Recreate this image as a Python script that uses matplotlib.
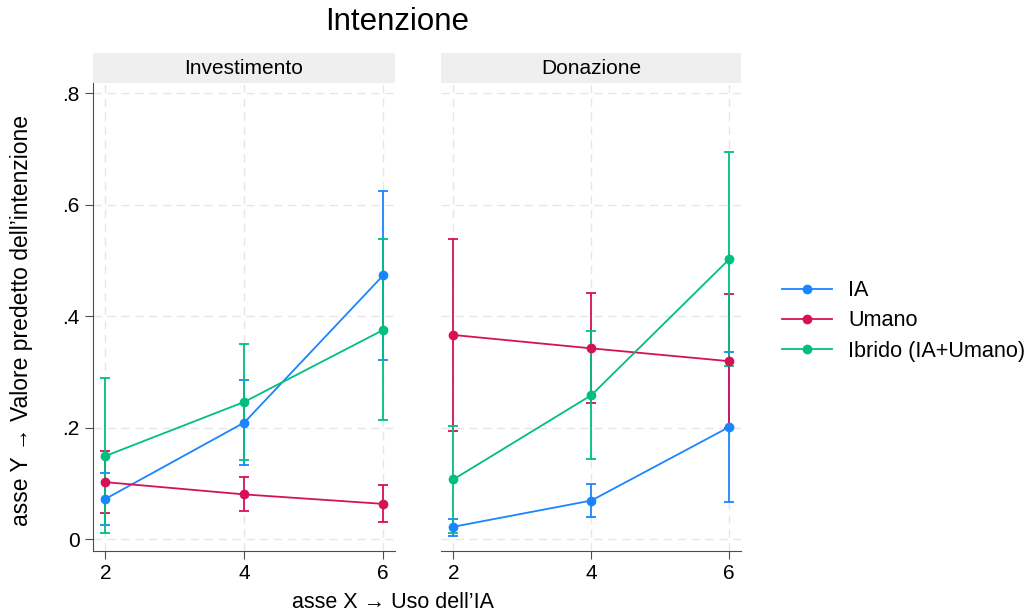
import matplotlib
matplotlib.use("Agg")
import matplotlib.pyplot as plt
from matplotlib.patches import Rectangle

plt.rcParams['font.family'] = ['Liberation Sans', 'DejaVu Sans']

# data
x_vals = [2, 4, 6]
panels = ["Investimento", "Donazione"]
groups = ["IA", "Umano", "Ibrido (IA+Umano)"]
colors = ["#1a85ff", "#d41159", "#00bf7f"]

# Investimento
inv_ia = [0.072, 0.209, 0.473]
inv_ia_lo = [0.025, 0.133, 0.321]
inv_ia_hi = [0.119, 0.285, 0.625]
inv_um = [0.102, 0.080, 0.063]
inv_um_lo = [0.047, 0.050, 0.030]
inv_um_hi = [0.157, 0.111, 0.096]
inv_ib = [0.149, 0.246, 0.375]
inv_ib_lo = [0.010, 0.142, 0.214]
inv_ib_hi = [0.289, 0.349, 0.538]

# Donazione
don_ia = [0.022, 0.069, 0.201]
don_ia_lo = [0.006, 0.039, 0.066]
don_ia_hi = [0.036, 0.099, 0.336]
don_um = [0.366, 0.342, 0.319]
don_um_lo = [0.194, 0.244, 0.200]
don_um_hi = [0.539, 0.441, 0.439]
don_ib = [0.107, 0.258, 0.502]
don_ib_lo = [0.010, 0.143, 0.311]
don_ib_hi = [0.203, 0.373, 0.694]

data = [
    [(inv_ia, inv_ia_lo, inv_ia_hi), (inv_um, inv_um_lo, inv_um_hi), (inv_ib, inv_ib_lo, inv_ib_hi)],
    [(don_ia, don_ia_lo, don_ia_hi), (don_um, don_um_lo, don_um_hi), (don_ib, don_ib_lo, don_ib_hi)],
]

W, H = 1032, 615
fig = plt.figure(figsize=(W / 100, H / 100), dpi=100)

axes_px = [(93, 395), (441, 741)]
top_px, bot_px = 83, 551
spine_col = "#4d4d4d"
fs = 15

handles = []
for p, (x0, x1) in enumerate(axes_px):
    ax = fig.add_axes([x0 / W, (H - bot_px) / H, (x1 - x0) / W, (bot_px - top_px) / H])
    for g, (vals, lo, hi) in enumerate(data[p]):
        err = [[v - l for v, l in zip(vals, lo)], [h - v for v, h in zip(vals, hi)]]
        ax.errorbar(x_vals, vals, yerr=err, fmt="none", ecolor=colors[g],
                    elinewidth=1.3, capsize=3.5, capthick=1.3, zorder=3)
        ln, = ax.plot(x_vals, vals, color=colors[g], lw=1.3, marker="o",
                      markersize=6, zorder=4, label=groups[g])
        if p == 0:
            handles.append(ln)

    ax.set_xlim(1.82, 6.17)
    ax.set_ylim(-0.0215, 0.818)
    ax.set_xticks(x_vals)
    ax.set_yticks([0, 0.2, 0.4, 0.6, 0.8])
    ax.set_yticklabels(["0", ".2", ".4", ".6", ".8"])
    ax.grid(True, color="#e6e6e6", linestyle=(0, (6, 4)), lw=1)
    ax.set_axisbelow(True)
    for s in ["top", "right"]:
        ax.spines[s].set_visible(False)
    ax.spines["bottom"].set_color(spine_col)
    ax.spines["left"].set_color(spine_col)
    ax.tick_params(axis="both", colors=spine_col, labelcolor="black",
                   labelsize=fs, length=6, direction="out")
    if p == 1:
        ax.spines["left"].set_visible(False)
        ax.tick_params(axis="y", left=False, labelleft=False)

    # header strip
    fig.patches.append(Rectangle((x0 / W, (H - top_px) / H), (x1 - x0) / W, 30 / H,
                                 transform=fig.transFigure, facecolor="#efefef",
                                 edgecolor="none"))
    fig.text((x0 + x1) / 2 / W, (H - 68) / H, panels[p], ha="center", va="center",
             fontsize=fs)

fig.text(397 / W, (H - 22) / H, "Intenzione", ha="center", va="center", fontsize=22.5)
fig.text(393 / W, (H - 603) / H, "asse X \u2192 Uso dell\u2019IA", ha="center",
         va="center", fontsize=15.5)
fig.text(22 / W, (H - 320) / H, "asse Y \u2192 Valore predetto dell\u2019intenzione",
         ha="center", va="center", rotation=90, fontsize=16.5)

fig.legend(handles=handles, loc="center left", bbox_to_anchor=(782 / W, (H - 321) / H),
           frameon=False, fontsize=15.6, handlelength=2.3, handletextpad=0.75,
           labelspacing=0.42, borderpad=0, borderaxespad=0)

fig.savefig("out.png", dpi=100)
